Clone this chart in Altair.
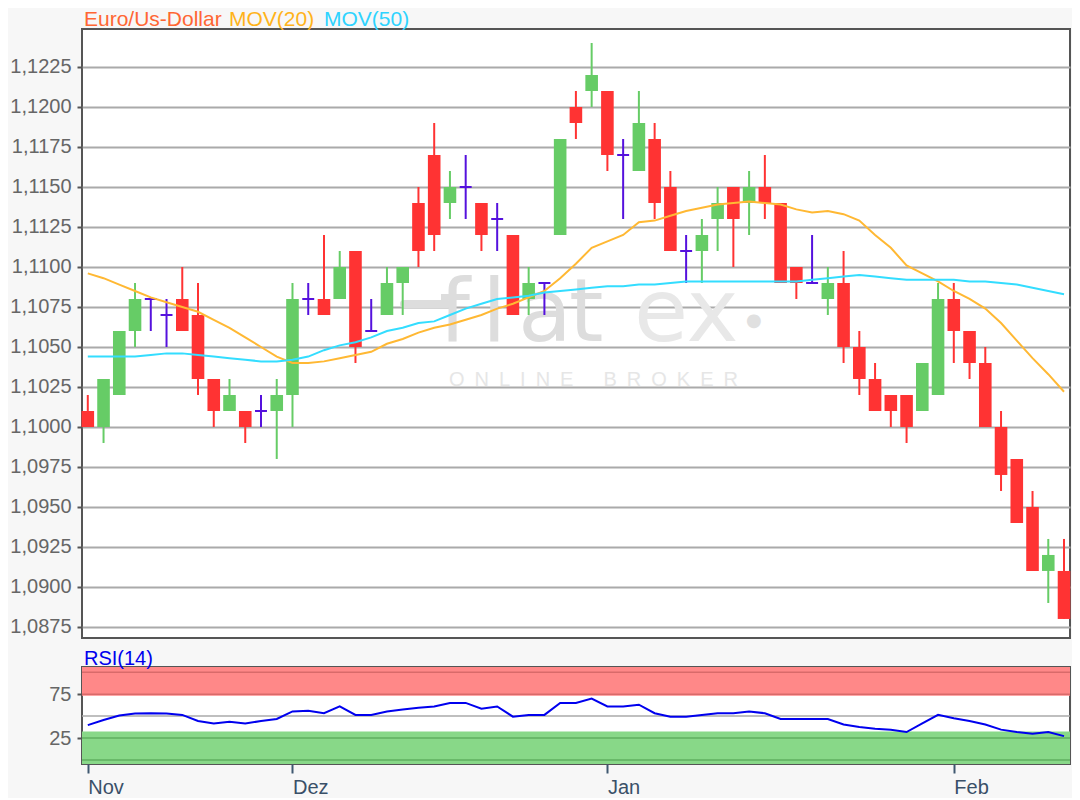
import altair as alt
import pandas as pd

# ---------------- data ----------------
opens = [1.1010, 1.1000, 1.1020, 1.1060, 1.1080, 1.1070, 1.1080, 1.1070, 1.1030, 1.1010,
         1.1010, 1.1010, 1.1010, 1.1020, 1.1080, 1.1080, 1.1080, 1.1110, 1.1060, 1.1070,
         1.1090, 1.1140, 1.1170, 1.1140, 1.1150, 1.1140, 1.1130, 1.1120, 1.1080, 1.1090,
         1.1120, 1.1200, 1.1210, 1.1210, 1.1170, 1.1160, 1.1180, 1.1150, 1.1110, 1.1110,
         1.1130, 1.1150, 1.1140, 1.1150, 1.1140, 1.1100, 1.1090, 1.1080, 1.1090, 1.1050,
         1.1030, 1.1020, 1.1020, 1.1010, 1.1020, 1.1080, 1.1060, 1.1040, 1.1000, 1.0980,
         1.0950, 1.0910, 1.0910]
highs = [1.1020, 1.1030, 1.1060, 1.1090, 1.1080, 1.1080, 1.1100, 1.1090, 1.1030, 1.1030,
         1.1010, 1.1020, 1.1030, 1.1090, 1.1090, 1.1120, 1.1110, 1.1110, 1.1080, 1.1100,
         1.1100, 1.1150, 1.1190, 1.1160, 1.1170, 1.1140, 1.1140, 1.1120, 1.1100, 1.1090,
         1.1180, 1.1210, 1.1240, 1.1210, 1.1180, 1.1210, 1.1190, 1.1160, 1.1120, 1.1130,
         1.1150, 1.1150, 1.1160, 1.1170, 1.1140, 1.1100, 1.1120, 1.1100, 1.1110, 1.1060,
         1.1040, 1.1020, 1.1020, 1.1040, 1.1090, 1.1090, 1.1060, 1.1050, 1.1010, 1.0980,
         1.0960, 1.0930, 1.0930]
lows = [1.1000, 1.0990, 1.1020, 1.1050, 1.1060, 1.1050, 1.1060, 1.1020, 1.1000, 1.1010,
        1.0990, 1.1000, 1.0980, 1.1000, 1.1070, 1.1070, 1.1080, 1.1040, 1.1060, 1.1070,
        1.1070, 1.1100, 1.1110, 1.1130, 1.1130, 1.1110, 1.1110, 1.1070, 1.1070, 1.1070,
        1.1120, 1.1180, 1.1200, 1.1160, 1.1130, 1.1160, 1.1130, 1.1110, 1.1090, 1.1090,
        1.1110, 1.1100, 1.1120, 1.1130, 1.1090, 1.1080, 1.1090, 1.1070, 1.1040, 1.1020,
        1.1010, 1.1000, 1.0990, 1.1010, 1.1020, 1.1040, 1.1030, 1.1000, 1.0960, 1.0940,
        1.0910, 1.0890, 1.0880]
closes = [1.1000, 1.1030, 1.1060, 1.1080, 1.1080, 1.1070, 1.1060, 1.1030, 1.1010, 1.1020,
          1.1000, 1.1010, 1.1020, 1.1080, 1.1080, 1.1070, 1.1100, 1.1050, 1.1060, 1.1090,
          1.1100, 1.1110, 1.1120, 1.1150, 1.1150, 1.1120, 1.1130, 1.1070, 1.1090, 1.1090,
          1.1180, 1.1190, 1.1220, 1.1170, 1.1170, 1.1190, 1.1140, 1.1110, 1.1110, 1.1120,
          1.1140, 1.1130, 1.1150, 1.1140, 1.1090, 1.1090, 1.1090, 1.1090, 1.1050, 1.1030,
          1.1010, 1.1010, 1.1000, 1.1040, 1.1080, 1.1060, 1.1040, 1.1000, 1.0970, 1.0940,
          1.0910, 1.0920, 1.0880]
ma20 = [1.1096, 1.1093, 1.1089, 1.1085, 1.1081, 1.1078, 1.1075, 1.1072, 1.1067, 1.1062,
        1.1056, 1.1050, 1.1044, 1.1040, 1.1040, 1.1041, 1.1043, 1.1045, 1.1047, 1.1052,
        1.1055, 1.1059, 1.1062, 1.1064, 1.1067, 1.1070, 1.1074, 1.1077, 1.1081, 1.1085,
        1.1093, 1.1102, 1.1112, 1.1116, 1.1120, 1.1128, 1.1129, 1.1132, 1.1135, 1.1137,
        1.1139, 1.1140, 1.1141, 1.1140, 1.1139, 1.1136, 1.1134, 1.1135, 1.1133, 1.1129,
        1.1120, 1.1112, 1.1101, 1.1096, 1.1091, 1.1085, 1.1080, 1.1074, 1.1065, 1.1054,
        1.1043, 1.1033, 1.1022]
ma50 = [1.1044, 1.1044, 1.1044, 1.1044, 1.1045, 1.1046, 1.1046, 1.1045, 1.1044, 1.1043,
        1.1042, 1.1041, 1.1041, 1.1042, 1.1044, 1.1048, 1.1051, 1.1053, 1.1056, 1.1060,
        1.1062, 1.1065, 1.1066, 1.1070, 1.1074, 1.1077, 1.1080, 1.1081, 1.1082, 1.1084,
        1.1085, 1.1086, 1.1087, 1.1088, 1.1088, 1.1089, 1.1089, 1.1090, 1.1091, 1.1091,
        1.1091, 1.1091, 1.1091, 1.1091, 1.1091, 1.1091, 1.1092, 1.1093, 1.1094, 1.1095,
        1.1094, 1.1093, 1.1092, 1.1092, 1.1092, 1.1092, 1.1091, 1.1091, 1.1090, 1.1089,
        1.1087, 1.1085, 1.1083]
rsi = [39.7, 45.5, 50.6, 52.9, 53.3, 53.0, 51.4, 44.4, 41.6, 43.6,
       41.6, 44.4, 46.7, 55.3, 56.0, 53.3, 61.0, 51.4, 51.4, 55.3,
       57.5, 59.5, 61.0, 65.0, 65.0, 58.4, 61.0, 49.4, 51.4, 51.4,
       65.0, 65.0, 70.0, 61.0, 61.0, 63.0, 53.3, 49.4, 49.4, 51.4,
       53.3, 53.3, 55.3, 53.3, 46.7, 46.7, 46.7, 46.7, 40.5, 37.7,
       35.5, 34.6, 31.9, 41.6, 51.4, 47.5, 44.4, 40.5, 34.6, 31.9,
       29.9, 31.9, 27.2]
month_labels = ["Nov", "Dez", "Jan", "Feb"]
month_index = [0, 13, 33, 55]
price_ticks = [1.0875, 1.0900, 1.0925, 1.0950, 1.0975, 1.1000, 1.1025, 1.1050,
               1.1075, 1.1100, 1.1125, 1.1150, 1.1175, 1.1200, 1.1225]
rsi_ticks = [25, 75]
rsi_bands = {"over": (73.3, 105.9), "under": (-4.5, 32.6)}
rsi_levels = {"over": [100, 75], "mid": [50], "under": [25, 0]}

# ---------------- build table ----------------
n = len(opens)
kinds = ["up" if c > o else ("down" if c < o else "doji") for o, c in zip(opens, closes)]
df = pd.DataFrame({"i": list(range(n)), "open": opens, "high": highs, "low": lows,
                   "close": closes, "ma20": ma20, "ma50": ma50, "rsi": rsi, "kind": kinds})

W = 988
H_MAIN = 609
H_RSI = 97
FONT = "Liberation Sans"

x_scale = alt.Scale(domain=[-0.368, 62.38], nice=False, zero=False)
y_scale = alt.Scale(domain=[1.08681, 1.124875], nice=False, zero=False)
rsi_scale = alt.Scale(domain=[-4.5, 105.9], nice=False, zero=False)
kind_scale = alt.Scale(domain=["up", "down", "doji"], range=["#66CC66", "#FF3333", "#5511DD"])


def label(text, x, y, size, color, font=FONT, align="left"):
    return alt.Chart(pd.DataFrame({"t": [text]})).mark_text(
        align=align, baseline="alphabetic", fontSize=size, font=font, color=color
    ).encode(text="t:N", x=alt.value(x), y=alt.value(y))


y_axis = alt.Axis(
    values=price_ticks,
    labelExpr="replace(format(datum.value, '.4f'), '.', ',')",
    title=None, grid=True, gridColor="#AAAAAA", gridWidth=2, domain=False,
    tickColor="#555555", tickWidth=2, tickSize=5, labelPadding=6,
    labelFont=FONT, labelFontSize=20, labelColor="#666666",
)

base = alt.Chart(df)
wicks = base.mark_rule(strokeWidth=2).encode(
    x=alt.X("i:Q", scale=x_scale, axis=None),
    y=alt.Y("low:Q", scale=y_scale, axis=y_axis),
    y2="high:Q",
    color=alt.Color("kind:N", scale=kind_scale, legend=None),
)
bodies = base.transform_filter("datum.kind != 'doji'").transform_calculate(
    xl="datum.i - 0.4", xr="datum.i + 0.4"
).mark_rect().encode(
    x=alt.X("xl:Q", scale=x_scale, axis=None), x2="xr:Q",
    y=alt.Y("open:Q", scale=y_scale, axis=y_axis), y2="close:Q",
    color=alt.Color("kind:N", scale=kind_scale, legend=None),
)
dojis = base.transform_filter("datum.kind == 'doji'").transform_calculate(
    xl="datum.i - 0.38", xr="datum.i + 0.38"
).mark_rule(strokeWidth=2).encode(
    x=alt.X("xl:Q", scale=x_scale, axis=None), x2="xr:Q",
    y=alt.Y("open:Q", scale=y_scale, axis=y_axis),
    color=alt.Color("kind:N", scale=kind_scale, legend=None),
)
ma20_line = base.mark_line(color="#FFB833", strokeWidth=2).encode(
    x=alt.X("i:Q", scale=x_scale, axis=None),
    y=alt.Y("ma20:Q", scale=y_scale, axis=y_axis),
)
ma50_line = base.mark_line(color="#33DDFF", strokeWidth=2).encode(
    x=alt.X("i:Q", scale=x_scale, axis=None),
    y=alt.Y("ma50:Q", scale=y_scale, axis=y_axis),
)

# watermark (decoration)
wm_dash = alt.Chart(pd.DataFrame({"a": [0]})).mark_rule(
    strokeWidth=8, color="#DDDDDD", strokeCap="round"
).encode(x=alt.value(322), x2=alt.value(366), y=alt.value(275))
wm = [wm_dash,
      label("f", 357, 312, 88, "#DDDDDD", font="DejaVu Sans"),
      label("l", 400, 312, 88, "#DDDDDD", font="DejaVu Sans"),
      label("a", 436, 312, 88, "#DDDDDD", font="DejaVu Sans"),
      label("t", 487, 312, 88, "#DDDDDD", font="DejaVu Sans"),
      label("ex", 552, 312, 88, "#E8E8E8", font="DejaVu Sans"),
      label("\u25cf", 664, 297, 18, "#E0E0E0", font="DejaVu Sans"),
      label("O\u2002N\u2002L\u2002I\u2002N\u2002E\u2002\u2002\u2002B\u2002R\u2002O\u2002K\u2002E\u2002R",
            367, 357, 20, "#E6E6E6")]

titles = [label("Euro/Us-Dollar", 2, -3, 21, "#FF6633"),
          label("MOV(20)", 147, -3, 21, "#FFB31A"),
          label("MOV(50)", 242, -3, 21, "#2ED3FF")]

main = alt.layer(*wm, wicks, bodies, dojis, ma20_line, ma50_line, *titles).properties(
    width=W, height=H_MAIN)

# ---------------- RSI panel ----------------
rsi_axis = alt.Axis(values=rsi_ticks, title=None, grid=False, domain=False,
                    tickColor="#555555", tickWidth=2, tickSize=5, labelPadding=6,
                    labelFont=FONT, labelFontSize=20, labelColor="#666666")
month_expr = " : ".join(f"datum.value == {i} ? '{m}'" for i, m in zip(month_index, month_labels)) + " : ''"
x_axis = alt.Axis(values=month_index, labelExpr=month_expr, title=None, grid=False, domain=False,
                  tickColor="#3F5870", tickWidth=2, tickSize=9, labelPadding=4,
                  labelAlign="left", labelBaseline="top", labelFont=FONT, labelFontSize=20,
                  labelColor="#3A5068", labelFlush=False, labelOverlap=False)

band_colors = {"over": "#FF8888", "under": "#88D888"}
level_colors = {"over": "#D96A6A", "mid": "#AAAAAA", "under": "#5FAF5F"}

rsi_layers = []
for zone, (lo, hi) in rsi_bands.items():
    rsi_layers.append(alt.Chart(pd.DataFrame({"lo": [lo], "hi": [hi]})).mark_rect(
        color=band_colors[zone]).encode(
        x=alt.value(0), x2=alt.value(W),
        y=alt.Y("lo:Q", scale=rsi_scale, axis=rsi_axis), y2="hi:Q"))
for zone, lv in rsi_levels.items():
    rsi_layers.append(alt.Chart(pd.DataFrame({"level": lv})).mark_rule(
        color=level_colors[zone], strokeWidth=1.5).encode(
        y=alt.Y("level:Q", scale=rsi_scale, axis=rsi_axis)))
rsi_line = base.mark_line(color="#0000EE", strokeWidth=2).encode(
    x=alt.X("i:Q", scale=x_scale, axis=x_axis),
    y=alt.Y("rsi:Q", scale=rsi_scale, axis=rsi_axis),
)
rsi_chart = alt.layer(*rsi_layers, rsi_line, label("RSI(14)", 2, -2, 20, "#0000EE")).properties(
    width=W, height=H_RSI)

chart = alt.vconcat(main, rsi_chart, spacing=9).properties(
    background="#F7F7F7", padding=0
).configure_view(stroke="#555555", strokeWidth=2, fill="#FFFFFF")

chart.save("out.html", embed_options={"renderer": "svg", "actions": False})
